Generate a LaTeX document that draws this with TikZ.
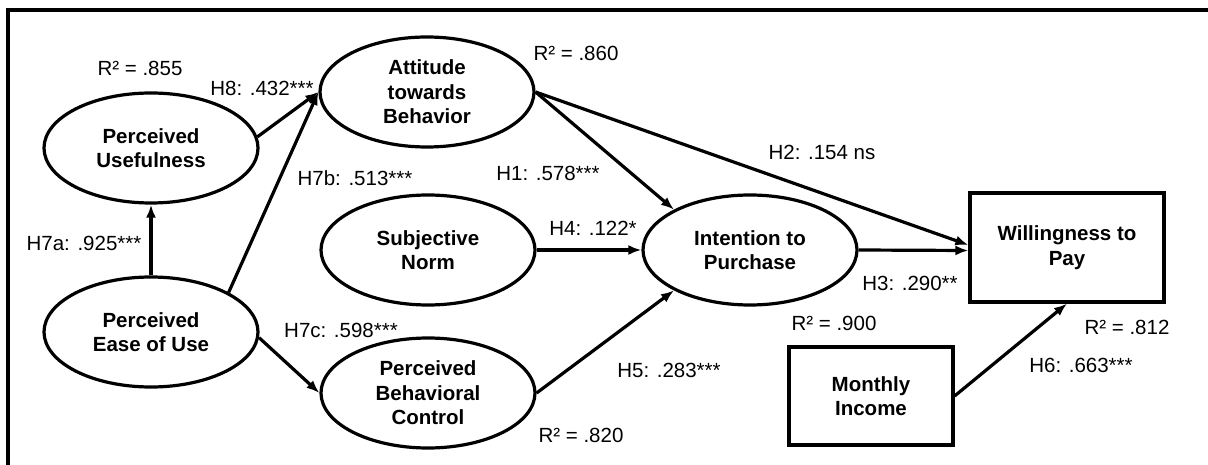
\documentclass[tikz,border=0pt]{standalone}
\usepackage{fontspec}
\setmainfont{Liberation Sans}
\usetikzlibrary{shapes.geometric,arrows.meta}
\begin{document}
\begin{tikzpicture}[x=1pt,y=-1pt,
  lv/.style={draw,ellipse,line width=3.2pt,minimum width=214pt,minimum height=110pt,inner sep=0pt,align=center,font=\fontsize{20.5}{24.5}\selectfont\bfseries},
  bx/.style={draw,rectangle,line width=3.2pt,inner sep=0pt,align=center,font=\fontsize{20.5}{24.5}\selectfont\bfseries},
  lab/.style={font=\fontsize{20.5}{24.5}\selectfont,inner sep=0pt},
  arr/.style={line width=3.2pt,-{Latex[length=13pt,width=10pt]}}]
\useasboundingbox (0,0) rectangle (1208,465);
\draw[line width=3.4pt] (8,10) rectangle (1220,480);
% nodes
\node[lv] (pu) at (151,148) {Perceived\\Usefulness};
\node[lv] (eou) at (151,332) {Perceived\\Ease of Use};
\node[lv] (att) at (427,92) {Attitude\\towards\\Behavior};
\node[lv] (sn) at (428,250) {Subjective\\Norm};
\node[lv] (pbc) at (428,393) {Perceived\\Behavioral\\Control};
\node[lv] (int) at (750,250) {Intention to\\Purchase};
\node[bx,minimum width=194pt,minimum height=109pt] (wtp) at (1067,247.5) {Willingness to\\Pay};
\node[bx,minimum width=164pt,minimum height=98pt] (inc) at (871,396) {Monthly\\Income};
% connectors
\draw[arr] (eou.north) -- (pu.south);
\draw[arr] (pu.6) -- (att.west);
\draw[arr] (eou.27) -- (att.west);
\draw[arr] (eou.-3) -- (pbc.west);
\draw[arr] (att.east) -- (int.152);
\draw[arr] (att.east) -- ([yshift=2.5pt]wtp.west);
\draw[arr] (sn.east) -- (int.west);
\draw[arr] (pbc.east) -- (int.208);
\draw[arr] (int.east) -- ([yshift=-3pt]wtp.west);
\draw[arr] (inc.east) -- (wtp.south);
% labels
\node[lab] (r1) at (140,68) {R² = .855};
\node[lab] (h8) at (262,88) {H8: .432***};
\node[lab] (h7b) at (355,178) {H7b: .513***};
\node[lab] (h7a) at (84,243) {H7a: .925***};
\node[lab] (h7c) at (341,330) {H7c: .598***};
\node[lab] (r2) at (576,53) {R² = .860};
\node[lab] (h1) at (548,173) {H1: .578***};
\node[lab] (h4) at (593,228) {H4: .122*};
\node[lab] (h2) at (822,152) {H2: .154 ns};
\node[lab] (h5) at (669,370) {H5: .283***};
\node[lab] (r3) at (581,435) {R² = .820};
\node[lab] (h3) at (910,283) {H3: .290**};
\node[lab] (r4) at (834,323) {R² = .900};
\node[lab] (r5) at (1127,327) {R² = .812};
\node[lab] (h6) at (1081,365) {H6: .663***};
\end{tikzpicture}
\end{document}
